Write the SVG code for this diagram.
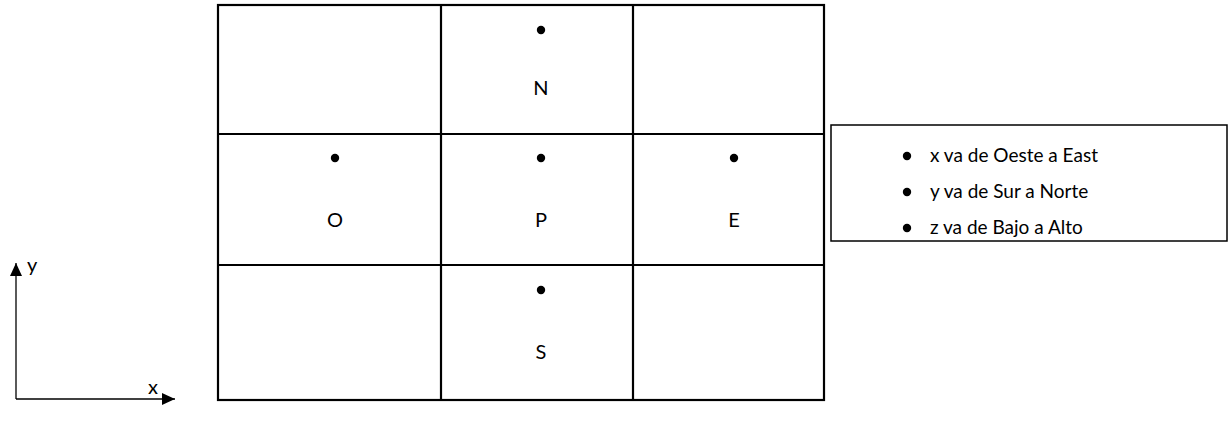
<svg xmlns="http://www.w3.org/2000/svg" width="1232" height="430" viewBox="0 0 1232 430">
  <style>
    .t { font-family: Lato, "Open Sans", "Liberation Sans", sans-serif; font-size: 20px; fill: #000; }
    .l { font-size: 19px; }
    .c { text-anchor: middle; }
    .grid { fill: none; stroke: #000; stroke-width: 2.2; }
    .box { fill: #fff; stroke: #000; stroke-width: 1.5; }
    .axis { fill: none; stroke: #000; stroke-width: 1.3; }
    .dot { fill: #000; }
  </style>
  <defs>
    <marker id="arrow" viewBox="0 0 13 12" refX="13" refY="6" markerWidth="13" markerHeight="12" markerUnits="userSpaceOnUse" orient="auto">
      <path d="M0,0 L13,6 L0,12 Z" fill="#000"/>
    </marker>
  </defs>
  <rect width="1232" height="430" fill="#fff"/>

  <g id="grid">
    <rect class="grid" x="218" y="5" width="606" height="395"/>
    <line class="grid" x1="441" y1="5" x2="441" y2="400"/>
    <line class="grid" x1="633" y1="5" x2="633" y2="400"/>
    <line class="grid" x1="218" y1="134" x2="824" y2="134"/>
    <line class="grid" x1="218" y1="265" x2="824" y2="265"/>
  </g>

  <g id="node-N">
    <circle class="dot" cx="541" cy="30" r="4.2"/>
    <text class="t c" x="541" y="94.5">N</text>
  </g>
  <g id="node-O">
    <circle class="dot" cx="335" cy="158" r="4.2"/>
    <text class="t c" x="335" y="226.5">O</text>
  </g>
  <g id="node-P">
    <circle class="dot" cx="541" cy="158" r="4.2"/>
    <text class="t c" x="541" y="226.5">P</text>
  </g>
  <g id="node-E">
    <circle class="dot" cx="734" cy="158" r="4.2"/>
    <text class="t c" x="734" y="226.5">E</text>
  </g>
  <g id="node-S">
    <circle class="dot" cx="541" cy="290" r="4.2"/>
    <text class="t c" x="541" y="358.5">S</text>
  </g>

  <g id="legend">
    <rect class="box" x="831" y="125" width="396" height="116"/>
    <circle class="dot" cx="907" cy="156" r="4.2"/>
    <text class="t l" x="930" y="162">x va de Oeste a East</text>
    <circle class="dot" cx="907" cy="192" r="4.2"/>
    <text class="t l" x="930" y="198">y va de Sur a Norte</text>
    <circle class="dot" cx="907" cy="228" r="4.2"/>
    <text class="t l" x="930" y="234">z va de Bajo a Alto</text>
  </g>

  <g id="connectors">
    <line class="axis" x1="16" y1="399" x2="16" y2="263" marker-end="url(#arrow)"/>
    <line class="axis" x1="16" y1="399" x2="175" y2="399" marker-end="url(#arrow)"/>
  </g>

  <g id="axis-labels">
    <text class="t" x="27" y="272">y</text>
    <text class="t c" x="153" y="394">x</text>
  </g>
</svg>
